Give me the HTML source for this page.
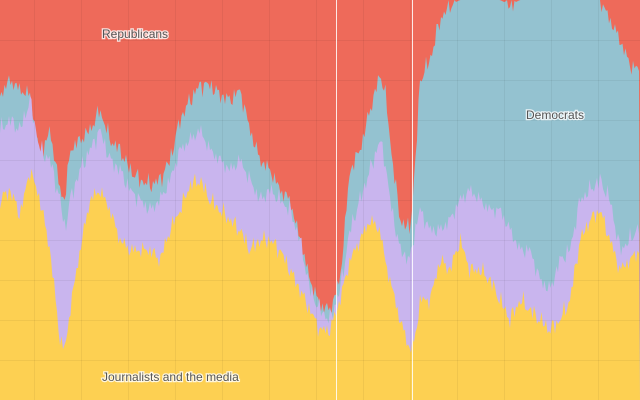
<!DOCTYPE html>
<html><head><meta charset="utf-8"><style>
html,body{margin:0;padding:0;width:640px;height:400px;overflow:hidden;background:#ee6a5a}
svg{display:block}
text{font-family:"Liberation Sans",sans-serif;font-size:12px;fill:#555;stroke:#fff;stroke-width:2.5px;paint-order:stroke;stroke-opacity:.8}
</style></head><body>
<svg id="s" width="640" height="400" viewBox="0 0 640 400">
<rect width="640" height="400" fill="#ee6a5a"/>
<path id="pb" fill="#94c2d0"/>
<path id="pp" fill="#c9b5ee"/>
<path id="py" fill="#fdd052"/>
<g id="grid" stroke="#000" stroke-opacity="0.05" stroke-width="1"></g>
<line x1="336.5" y1="0" x2="336.5" y2="400" stroke="#fff" stroke-opacity=".85"/>
<line x1="412.5" y1="0" x2="412.5" y2="400" stroke="#fff" stroke-opacity=".85"/>
<text x="102" y="38">Republicans</text>
<text x="526" y="119">Democrats</text>
<text x="102" y="381">Journalists and the media</text>
</svg>
<script>
var d=[[0,200,130,95],[10,190,120,80],[20,215,130,90],[30,170,100,95],[40,200,150,160],[50,250,160,130],[60,340,200,190],[65,350,230,200],[70,310,200,150],[80,250,170,140],[90,200,150,130],[100,190,130,110],[110,210,160,140],[120,240,170,150],[130,250,190,170],[140,250,200,180],[150,250,210,185],[160,260,200,180],[170,230,180,160],[180,210,150,120],[190,185,140,100],[200,180,130,85],[210,200,150,85],[220,210,160,95],[230,220,170,100],[240,230,160,90],[250,250,180,130],[260,240,200,160],[270,240,190,170],[280,250,200,190],[290,270,210,200],[300,290,240,240],[310,310,290,280],[320,330,310,305],[330,330,320,310],[340,300,290,280],[350,260,230,170],[360,240,200,150],[370,220,170,110],[380,230,140,75],[385,260,160,90],[390,280,200,140],[400,320,250,220],[410,350,260,230],[415,340,230,170],[420,300,210,80],[430,300,230,60],[440,260,230,20],[450,270,220,5],[460,240,200,0],[470,270,190,0],[480,270,200,0],[490,280,210,0],[500,300,210,0],[510,320,230,5],[520,300,250,0],[530,310,250,0],[540,320,280,0],[550,330,290,0],[560,320,260,0],[570,300,250,0],[580,240,200,0],[590,220,190,0],[600,210,180,0],[610,240,200,20],[620,270,250,40],[630,260,240,65],[640,250,225,70]];
function val(x,k){for(var i=0;i<d.length-1;i++){if(x<=d[i+1][0]){var t=(x-d[i][0])/(d[i+1][0]-d[i][0]);return d[i][k]+(d[i+1][k]-d[i][k])*t;}}return d[d.length-1][k];}
function jit(x,k){return 5*Math.sin(x*1.7+k)+3*Math.sin(x*0.63+k*2)+3*Math.sin(x*3.1+k*3)+2*Math.sin(x*5.3+k);}
function path(k){var s="M0,400";for(var x=0;x<=640;x+=1.5){var v=val(x,k);if(v>2)v+=jit(x,k);if(v<0)v=0;s+=" L"+x+","+v.toFixed(1);}return s+" L640,400 Z";}
document.getElementById("pb").setAttribute("d",path(3));
document.getElementById("pp").setAttribute("d",path(2));
document.getElementById("py").setAttribute("d",path(1));
var g=document.getElementById("grid"),h="";
for(var x=34;x<640;x+=47)h+='<line x1="'+(x+.5)+'" y1="0" x2="'+(x+.5)+'" y2="400"/>';
for(var y=40;y<400;y+=40)h+='<line x1="0" y1="'+(y+.5)+'" x2="640" y2="'+(y+.5)+'"/>';
g.innerHTML=h;
</script>
</body></html>
